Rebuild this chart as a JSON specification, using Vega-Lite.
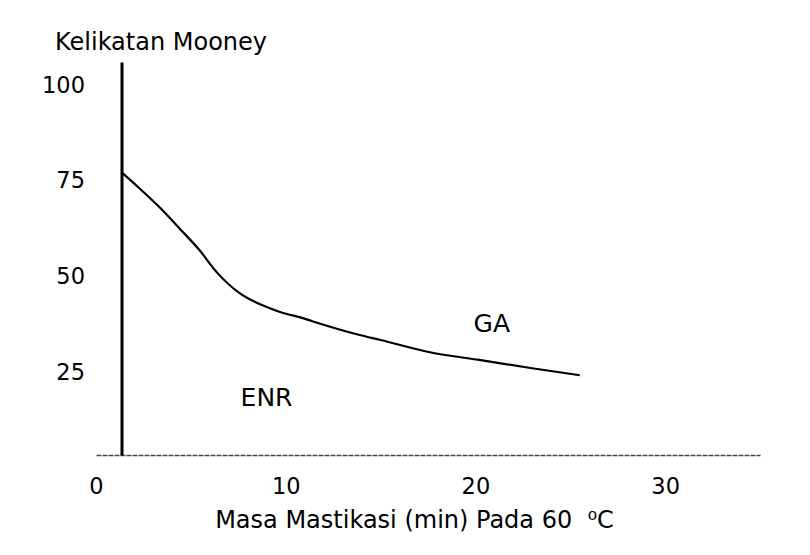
{
  "$schema": "https://vega.github.io/schema/vega-lite/v6.json",
  "width": 664,
  "height": 393,
  "autosize": {"type": "none"},
  "padding": {"left": 96, "top": 62, "right": 50, "bottom": 100},
  "background": "white",
  "config": {"view": {"stroke": null}, "font": "DejaVu Sans"},
  "datasets": {
    "curve": [
      {"t": 1.4, "v": 77.0},
      {"t": 2.3, "v": 73.0},
      {"t": 3.35, "v": 68.1},
      {"t": 4.4, "v": 62.6},
      {"t": 5.46, "v": 56.9},
      {"t": 6.36, "v": 51.2},
      {"t": 7.57, "v": 45.7},
      {"t": 9.0, "v": 42.1},
      {"t": 9.7, "v": 40.8},
      {"t": 10.9, "v": 39.2},
      {"t": 11.4, "v": 38.4},
      {"t": 13.9, "v": 34.8},
      {"t": 15.0, "v": 33.5},
      {"t": 17.6, "v": 30.3},
      {"t": 20.2, "v": 28.3},
      {"t": 22.9, "v": 26.2},
      {"t": 25.5, "v": 24.3}
    ],
    "labels": [
      {"t": 20.86, "v": 37.6, "name": "GA"},
      {"t": 8.99, "v": 18.4, "name": "ENR"}
    ]
  },
  "layer": [
    {
      "data": {"name": "curve"},
      "mark": {"type": "line", "color": "black", "strokeWidth": 2.2, "interpolate": "monotone"},
      "encoding": {
        "x": {
          "field": "t", "type": "quantitative",
          "scale": {"domain": [0, 35], "nice": false, "zero": false},
          "axis": {
            "values": [0, 10, 20, 30],
            "title": "Masa Mastikasi (min) Pada 60\u00a0 ⁰C",
            "grid": false, "ticks": false,
            "labelFlush": false,
            "labelFontSize": 22.5, "labelColor": "black", "labelPadding": 20,
            "titleFontSize": 24, "titleFontWeight": "normal", "titleColor": "black", "titlePadding": 11,
            "titleX": 318,
            "domainColor": "#444", "domainWidth": 1.3, "domainDash": [5, 1]
          }
        },
        "y": {
          "field": "v", "type": "quantitative",
          "scale": {"domain": [3.5, 106], "nice": false, "zero": false},
          "axis": {
            "values": [25, 50, 75, 100],
            "title": "Kelikatan Mooney",
            "titleAngle": 0, "titleAlign": "left", "titleBaseline": "alphabetic",
            "titleX": -67, "titleY": -13,
            "titleFontSize": 24, "titleFontWeight": "normal", "titleColor": "black",
            "offset": -25.5,
            "labelPadding": 37, "labelFontSize": 22.5, "labelColor": "black",
            "ticks": false, "grid": false,
            "domainColor": "black", "domainWidth": 3
          }
        }
      }
    },
    {
      "data": {"name": "labels"},
      "mark": {"type": "text", "fontSize": 25, "font": "DejaVu Sans", "color": "black"},
      "encoding": {
        "x": {"field": "t", "type": "quantitative"},
        "y": {"field": "v", "type": "quantitative"},
        "text": {"field": "name"}
      }
    }
  ]
}
